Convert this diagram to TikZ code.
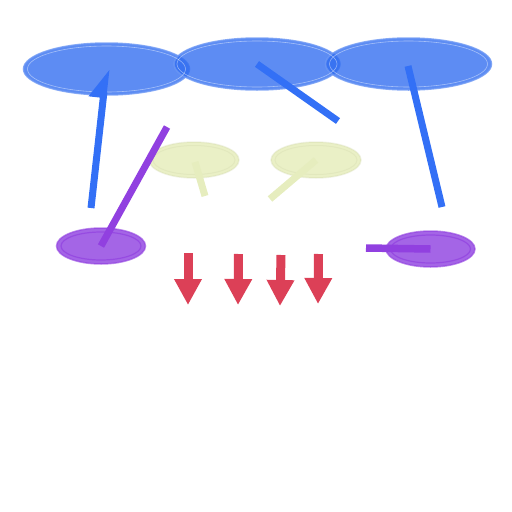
\documentclass[tikz,border=0pt]{standalone}
\usetikzlibrary{shapes.geometric,arrows.meta}
\definecolor{bluefill}{HTML}{2F6CF0}
\definecolor{blueline}{HTML}{3370F6}
\definecolor{yellowfill}{HTML}{EAF0C6}
\definecolor{yellowline}{HTML}{E6EDBE}
\definecolor{purplefill}{HTML}{A465E6}
\definecolor{purpleline}{HTML}{9140E0}
\definecolor{dropred}{HTML}{DC4057}
\begin{document}
\begin{tikzpicture}[x=1pt,y=-1pt,
  cloud/.style={ellipse,inner sep=0pt,line width=1.5pt},
  bigcloud/.style={cloud,minimum width=166pt,minimum height=52pt,fill=bluefill,fill opacity=0.78,draw=bluefill!70!white,draw opacity=0.8},
  palecloud/.style={cloud,minimum width=90pt,minimum height=36pt,fill=yellowfill,draw=yellowline!90!black,draw opacity=0.3},
  purplecloud/.style={cloud,minimum width=89pt,minimum height=36pt,fill=purplefill,draw=purpleline,draw opacity=0.6},
  link/.style={line width=7pt},
  drop/.style={dropred,line width=9pt,-{Triangle[length=26pt,width=26pt]}}]
\useasboundingbox (0,0) rectangle (512,512);
% top row
\node[bigcloud] (top1) at (106.5,69) {};
\node[bigcloud] (top2) at (257,64) {};
\node[bigcloud] (top3) at (408.5,64) {};
\draw[white,opacity=0.45,line width=0.6pt] (top1.center) ellipse [x radius=79,y radius=23];
\draw[white,opacity=0.45,line width=0.6pt] (top2.center) ellipse [x radius=80,y radius=23];
\draw[white,opacity=0.45,line width=0.6pt] (top3.center) ellipse [x radius=79,y radius=23];
% middle and lower row
\node[palecloud] (mid1) at (194,160) {};
\node[palecloud] (mid2) at (316,160) {};
\draw[yellowline!92!black,opacity=0.35,line width=1pt] (mid1.center) ellipse [x radius=41,y radius=14.5];
\draw[yellowline!92!black,opacity=0.35,line width=1pt] (mid2.center) ellipse [x radius=41,y radius=14.5];
\node[purplecloud] (low1) at (101,246) {};
\node[purplecloud] (low2) at (430.5,249) {};
\draw[purpleline,opacity=0.7,line width=1.2pt] (low1.center) ellipse [x radius=40,y radius=14];
\draw[purpleline,opacity=0.7,line width=1.2pt] (low2.center) ellipse [x radius=40,y radius=14];
% free ends
\coordinate (e1) at (91,208);
\coordinate (e2) at (338,121);
\coordinate (e3) at (442,207);
\coordinate (e4) at (167,127);
\coordinate (e5) at (205,196);
\coordinate (e6) at (270,199);
\coordinate (e7) at (366,248);
% links
\draw[link,blueline,-{Triangle[left,length=24pt,width=28pt]}] (e1) -- (top1.center);
\draw[link,blueline] (top2.center) -- (e2);
\draw[link,blueline] (408,66) -- (e3);
\draw[link,purpleline] (low1.center) -- (e4);
\draw[link,yellowline] (195,162) -- (e5);
\draw[link,yellowline] (mid2.center) -- (e6);
\draw[link,purpleline,line width=7.5pt] (low2.center) -- (e7);
% red drops
\coordinate (d1a) at (188,253);
\coordinate (d1b) at (188,305);
\coordinate (d2a) at (238.5,254);
\coordinate (d2b) at (238,305);
\coordinate (d3a) at (281,255);
\coordinate (d3b) at (280,306);
\coordinate (d4a) at (318.5,254);
\coordinate (d4b) at (318,304);
\draw[drop] (d1a) -- (d1b);
\draw[drop] (d2a) -- (d2b);
\draw[drop] (d3a) -- (d3b);
\draw[drop] (d4a) -- (d4b);
\end{tikzpicture}
\end{document}
